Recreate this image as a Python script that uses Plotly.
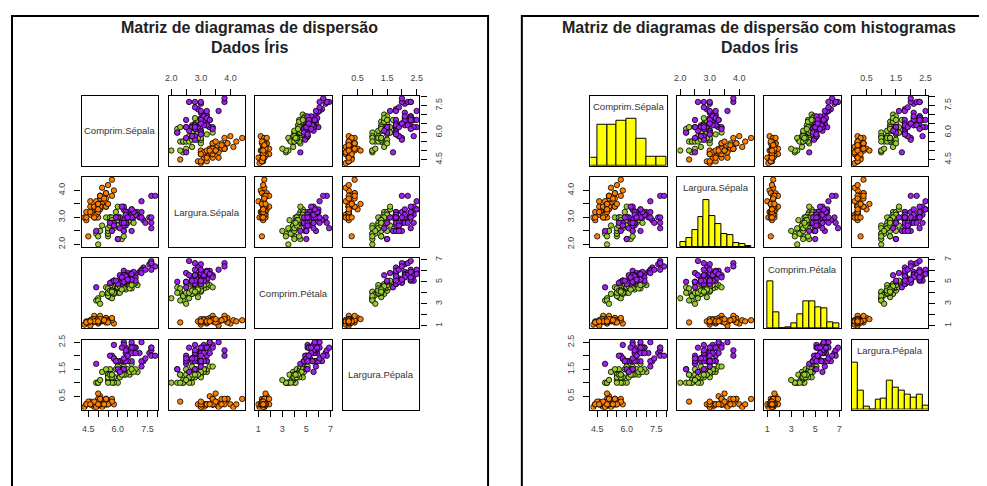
import plotly.graph_objects as go

# ---------------- data (Iris) ----------------
sepal_length = [
    5.1,4.9,4.7,4.6,5.0,5.4,4.6,5.0,4.4,4.9,5.4,4.8,4.8,4.3,5.8,5.7,5.4,5.1,5.7,5.1,5.4,5.1,4.6,5.1,4.8,
    5.0,5.0,5.2,5.2,4.7,4.8,5.4,5.2,5.5,4.9,5.0,5.5,4.9,4.4,5.1,5.0,4.5,4.4,5.0,5.1,4.8,5.1,4.6,5.3,5.0,
    7.0,6.4,6.9,5.5,6.5,5.7,6.3,4.9,6.6,5.2,5.0,5.9,6.0,6.1,5.6,6.7,5.6,5.8,6.2,5.6,5.9,6.1,6.3,6.1,6.4,
    6.6,6.8,6.7,6.0,5.7,5.5,5.5,5.8,6.0,5.4,6.0,6.7,6.3,5.6,5.5,5.5,6.1,5.8,5.0,5.6,5.7,5.7,6.2,5.1,5.7,
    6.3,5.8,7.1,6.3,6.5,7.6,4.9,7.3,6.7,7.2,6.5,6.4,6.8,5.7,5.8,6.4,6.5,7.7,7.7,6.0,6.9,5.6,7.7,6.3,6.7,
    7.2,6.2,6.1,6.4,7.2,7.4,7.9,6.4,6.3,6.1,7.7,6.3,6.4,6.0,6.9,6.7,6.9,5.8,6.8,6.7,6.7,6.3,6.5,6.2,5.9]
sepal_width = [
    3.5,3.0,3.2,3.1,3.6,3.9,3.4,3.4,2.9,3.1,3.7,3.4,3.0,3.0,4.0,4.4,3.9,3.5,3.8,3.8,3.4,3.7,3.6,3.3,3.4,
    3.0,3.4,3.5,3.4,3.2,3.1,3.4,4.1,4.2,3.1,3.2,3.5,3.6,3.0,3.4,3.5,2.3,3.2,3.5,3.8,3.0,3.8,3.2,3.7,3.3,
    3.2,3.2,3.1,2.3,2.8,2.8,3.3,2.4,2.9,2.7,2.0,3.0,2.2,2.9,2.9,3.1,3.0,2.7,2.2,2.5,3.2,2.8,2.5,2.8,2.9,
    3.0,2.8,3.0,2.9,2.6,2.4,2.4,2.7,2.7,3.0,3.4,3.1,2.3,3.0,2.5,2.6,3.0,2.6,2.3,2.7,3.0,2.9,2.9,2.5,2.8,
    3.3,2.7,3.0,2.9,3.0,3.0,2.5,2.9,2.5,3.6,3.2,2.7,3.0,2.5,2.8,3.2,3.0,3.8,2.6,2.2,3.2,2.8,2.8,2.7,3.3,
    3.2,2.8,3.0,2.8,3.0,2.8,3.8,2.8,2.8,2.6,3.0,3.4,3.1,3.0,3.1,3.1,3.1,2.7,3.2,3.3,3.0,2.5,3.0,3.4,3.0]
petal_length = [
    1.4,1.4,1.3,1.5,1.4,1.7,1.4,1.5,1.4,1.5,1.5,1.6,1.4,1.1,1.2,1.5,1.3,1.4,1.7,1.5,1.7,1.5,1.0,1.7,1.9,
    1.6,1.6,1.5,1.4,1.6,1.6,1.5,1.5,1.4,1.5,1.2,1.3,1.4,1.3,1.5,1.3,1.3,1.3,1.6,1.9,1.4,1.6,1.4,1.5,1.4,
    4.7,4.5,4.9,4.0,4.6,4.5,4.7,3.3,4.6,3.9,3.5,4.2,4.0,4.7,3.6,4.4,4.5,4.1,4.5,3.9,4.8,4.0,4.9,4.7,4.3,
    4.4,4.8,5.0,4.5,3.5,3.8,3.7,3.9,5.1,4.5,4.5,4.7,4.4,4.1,4.0,4.4,4.6,4.0,3.3,4.2,4.2,4.2,4.3,3.0,4.1,
    6.0,5.1,5.9,5.6,5.8,6.6,4.5,6.3,5.8,6.1,5.1,5.3,5.5,5.0,5.1,5.3,5.5,6.7,6.9,5.0,5.7,4.9,6.7,4.9,5.7,
    6.0,4.8,4.9,5.6,5.8,6.1,6.4,5.6,5.1,5.6,6.1,5.6,5.5,4.8,5.4,5.6,5.1,5.1,5.9,5.7,5.2,5.0,5.2,5.4,5.1]
petal_width = [
    0.2,0.2,0.2,0.2,0.2,0.4,0.3,0.2,0.2,0.1,0.2,0.2,0.1,0.1,0.2,0.4,0.4,0.3,0.3,0.3,0.2,0.4,0.2,0.5,0.2,
    0.2,0.4,0.2,0.2,0.2,0.2,0.4,0.1,0.2,0.2,0.2,0.2,0.1,0.2,0.2,0.3,0.3,0.2,0.6,0.4,0.3,0.2,0.2,0.2,0.2,
    1.4,1.5,1.5,1.3,1.5,1.3,1.6,1.0,1.3,1.4,1.0,1.5,1.0,1.4,1.3,1.4,1.5,1.0,1.5,1.1,1.8,1.3,1.5,1.2,1.3,
    1.4,1.4,1.7,1.5,1.0,1.1,1.0,1.2,1.6,1.5,1.6,1.5,1.3,1.3,1.3,1.2,1.4,1.2,1.0,1.3,1.2,1.3,1.3,1.1,1.3,
    2.5,1.9,2.1,1.8,2.2,2.1,1.7,1.8,1.8,2.5,2.0,1.9,2.1,2.0,2.4,2.3,1.8,2.2,2.3,1.5,2.3,2.0,2.0,1.8,2.1,
    1.8,1.8,1.8,2.1,1.6,1.9,2.0,2.2,1.5,1.4,2.3,2.4,1.8,1.8,2.1,2.4,2.3,1.9,2.3,2.5,2.3,1.9,2.0,2.3,1.8]
species = ["setosa"] * 50 + ["versicolor"] * 50 + ["virginica"] * 50
species_names = ["setosa", "versicolor", "virginica"]
species_colors = ["#FF8000", "#9ACD32", "#A020F0"]

var_labels = ["Comprim.Sépala", "Largura.Sépala", "Comprim.Pétala", "Largura.Pépala"]

# histogram (R hist) breaks and counts
hist_breaks = [
    [4.0, 4.5, 5.0, 5.5, 6.0, 6.5, 7.0, 7.5, 8.0],
    [2.0, 2.2, 2.4, 2.6, 2.8, 3.0, 3.2, 3.4, 3.6, 3.8, 4.0, 4.2, 4.4],
    [1.0, 1.5, 2.0, 2.5, 3.0, 3.5, 4.0, 4.5, 5.0, 5.5, 6.0, 6.5, 7.0],
    [0.0, 0.2, 0.4, 0.6, 0.8, 1.0, 1.2, 1.4, 1.6, 1.8, 2.0, 2.2, 2.4, 2.6],
]
hist_counts = [
    [5, 27, 27, 30, 31, 18, 6, 6],
    [4, 7, 13, 23, 36, 24, 18, 10, 9, 3, 2, 1],
    [37, 13, 0, 1, 4, 11, 21, 21, 17, 16, 5, 4],
    [34, 14, 2, 0, 7, 8, 21, 16, 14, 11, 9, 11, 3],
]

tick_vals = [
    [4.5, 5.0, 5.5, 6.0, 6.5, 7.0, 7.5, 8.0],
    [2.0, 2.5, 3.0, 3.5, 4.0],
    [1, 2, 3, 4, 5, 6, 7],
    [0.5, 1.0, 1.5, 2.0, 2.5],
]
tick_text = [
    ["4.5", "", "", "6.0", "", "", "7.5", ""],
    ["2.0", "", "3.0", "", "4.0"],
    ["1", "", "3", "", "5", "", "7"],
    ["0.5", "", "1.5", "", "2.5"],
]

panel_titles = ["Matriz de diagramas de dispersão", "Matriz de diagramas de dispersão com histogramas"]
subtitle = "Dados Íris"

# ---------------- layout geometry (window pixels) ----------------
OFF = 8                      # default page body margin
W, H = 987 - OFF, 486 - OFF  # figure size so the page fits the window
col_x = [[79, 166.5, 254, 342], [591, 678.5, 766, 854]]
row_y = [92, 174.5, 257, 339.5]
CW, CH = 77, 71
panel_x = [(9, 488), (522, 1001)]
panel_center = [248, 761]

def px(x):
    return (x - OFF) / W

def py(y):
    return 1 - (y - OFF) / H

FONT = "Liberation Sans, Arial, Helvetica, sans-serif"
variables = [sepal_length, sepal_width, petal_length, petal_width]
ranges = []
for v in variables:
    lo, hi = min(v), max(v)
    d = (hi - lo) * 0.04
    ranges.append([lo - d, hi + d])

fig = go.Figure()
layout = {}
annotations = []
shapes = []

k = 0
for p in range(2):
    for i in range(4):
        for j in range(4):
            k += 1
            xname = "xaxis" if k == 1 else f"xaxis{k}"
            yname = "yaxis" if k == 1 else f"yaxis{k}"
            xr = "x" if k == 1 else f"x{k}"
            yr = "y" if k == 1 else f"y{k}"
            x0 = col_x[p][j]
            y0 = row_y[i]
            xax = dict(domain=[px(x0), px(x0 + CW)], range=ranges[j], anchor=yr,
                       showline=True, mirror=True, linecolor="black", linewidth=1.2,
                       showgrid=False, zeroline=False, fixedrange=True,
                       ticks="", showticklabels=False)
            yax = dict(domain=[py(y0 + CH), py(y0)], anchor=xr,
                       showline=True, mirror=True, linecolor="black", linewidth=1.2,
                       showgrid=False, zeroline=False, fixedrange=True,
                       ticks="", showticklabels=False)
            tickstyle = dict(ticks="outside", ticklen=6, tickwidth=1, tickcolor="black",
                             showticklabels=True,
                             tickfont=dict(family=FONT, size=9, color="#444"))
            if i == 0 and j % 2 == 1:
                xax.update(tickstyle, side="top", tickvals=tick_vals[j], ticktext=tick_text[j],
                           tickangle=0, ticklabelstandoff=4)
            if i == 3 and j % 2 == 0:
                xax.update(tickstyle, side="bottom", tickvals=tick_vals[j], ticktext=tick_text[j],
                           tickangle=0, ticklabelstandoff=4)
            if i == j:
                if p == 0:
                    yax["range"] = [0, 1]
                    fig.add_trace(go.Scatter(x=[], y=[], mode="markers", xaxis=xr, yaxis=yr,
                                             showlegend=False, hoverinfo="skip"))
                    annotations.append(dict(x=px(x0 + CW / 2), y=py(y0 + CH / 2), xref="paper", yref="paper",
                                            text=var_labels[i], showarrow=False,
                                            font=dict(family=FONT, size=9.5, color="#333"),
                                            xanchor="center", yanchor="middle"))
                else:
                    br = hist_breaks[i]
                    cnt = hist_counts[i]
                    mids = [(br[n] + br[n + 1]) / 2 for n in range(len(cnt))]
                    widths = [br[n + 1] - br[n] for n in range(len(cnt))]
                    fig.add_trace(go.Bar(x=mids, y=cnt, width=widths, xaxis=xr, yaxis=yr,
                                         marker=dict(color="#FFFF00", line=dict(color="black", width=1)),
                                         showlegend=False, hoverinfo="skip"))
                    yax["range"] = [0, 1.5 * max(cnt)]
                    annotations.append(dict(x=px(x0 + CW / 2), y=py(y0 + 11), xref="paper", yref="paper",
                                            text=var_labels[i], showarrow=False,
                                            font=dict(family=FONT, size=9.5, color="#333"),
                                            xanchor="center", yanchor="middle"))
            else:
                yax["range"] = ranges[i]
                if j == 0 and i % 2 == 1:
                    yax.update(tickstyle, side="left", tickvals=tick_vals[i], ticktext=tick_text[i],
                               tickangle=-90, ticklabelstandoff=6)
                if j == 3 and i % 2 == 0:
                    yax.update(tickstyle, side="right", tickvals=tick_vals[i], ticktext=tick_text[i],
                               tickangle=-90, ticklabelstandoff=5)
                for s, sname in enumerate(species_names):
                    xs = [variables[j][n] for n in range(150) if species[n] == sname]
                    ys = [variables[i][n] for n in range(150) if species[n] == sname]
                    fig.add_trace(go.Scatter(x=xs, y=ys, mode="markers", xaxis=xr, yaxis=yr,
                                             marker=dict(size=5.4, color=species_colors[s],
                                                         line=dict(color="black", width=0.8)),
                                             showlegend=False, hoverinfo="skip", cliponaxis=True))
            layout[xname] = xax
            layout[yname] = yax

    # panel border and titles
    shapes.append(dict(type="rect", xref="paper", yref="paper",
                       x0=px(panel_x[p][0]), x1=px(panel_x[p][1]), y0=py(520), y1=py(11),
                       line=dict(color="black", width=2), fillcolor="rgba(0,0,0,0)"))
    annotations.append(dict(x=px(panel_center[p]), y=py(23), xref="paper", yref="paper",
                            text=panel_titles[p], showarrow=False,
                            font=dict(family=FONT, size=16, color="#222", weight="bold"),
                            xanchor="center", yanchor="middle"))
    annotations.append(dict(x=px(panel_center[p]), y=py(43), xref="paper", yref="paper",
                            text=subtitle, showarrow=False,
                            font=dict(family=FONT, size=16, color="#222", weight="bold"),
                            xanchor="center", yanchor="middle"))

fig.update_layout(**layout)
fig.update_layout(width=W, height=H, margin=dict(l=0, r=0, t=0, b=0),
                  paper_bgcolor="white", plot_bgcolor="white",
                  annotations=annotations, shapes=shapes, showlegend=False,
                  bargap=0)
fig.write_html("out.html")
